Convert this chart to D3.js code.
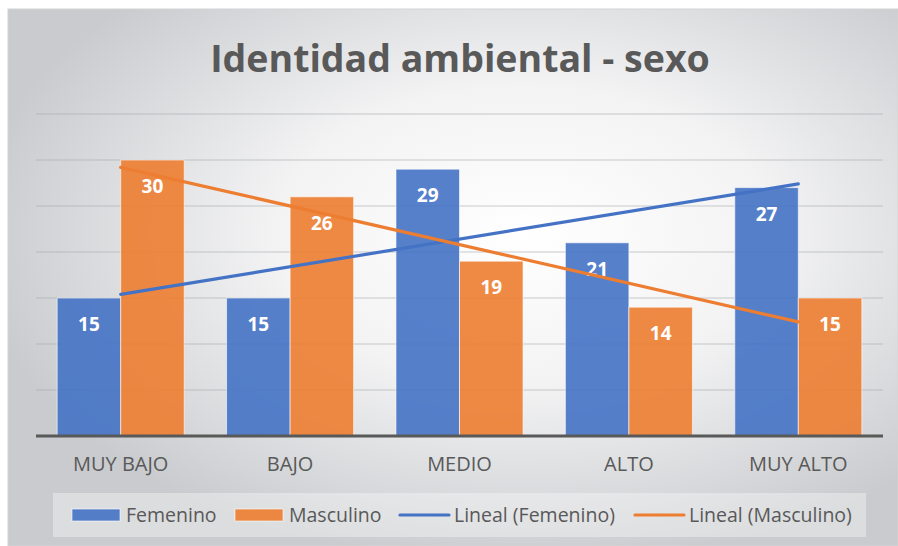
<!DOCTYPE html>
<html>
<head>
<meta charset="utf-8">
<script src="https://cdn.jsdelivr.net/npm/d3@7"></script>
<style>
  body { margin: 0; background: #fff; }
  text { font-family: "Open Sans", sans-serif; }
</style>
</head>
<body>
<div class="main"></div>
<script>
// data
var categories = ["MUY BAJO", "BAJO", "MEDIO", "ALTO", "MUY ALTO"];
var seriesNames = ["Femenino", "Masculino"];
var femenino = [15, 15, 29, 21, 27];
var masculino = [30, 26, 19, 14, 15];
var yTicks = [0, 5, 10, 15, 20, 25, 30, 35];

var colors = {Femenino: "#4472c4", Masculino: "#ed7d31"};

const W = 898, H = 546;
const plot = {left: 36, right: 883, top: 114, bottom: 436};

var svg = d3.select(".main").append("svg")
    .attr("width", W)
    .attr("height", H);

// background gradient
var defs = svg.append("defs");
var grad = defs.append("radialGradient")
    .attr("id", "bg")
    .attr("cx", "58%").attr("cy", "42%").attr("r", "62%");
grad.append("stop").attr("offset", "0%").attr("stop-color", "#ffffff");
grad.append("stop").attr("offset", "45%").attr("stop-color", "#f3f3f4");
grad.append("stop").attr("offset", "100%").attr("stop-color", "#c9cbce");

svg.append("rect")
    .attr("x", 8).attr("y", 9)
    .attr("width", 890).attr("height", 537)
    .attr("fill", "url(#bg)")
    .attr("stroke", "#d4d4d4")
    .attr("stroke-width", 1);

// title
svg.append("text")
    .attr("x", 460)
    .attr("y", 72)
    .attr("text-anchor", "middle")
    .text("Identidad ambiental - sexo")
    .style("font-size", "37.5px")
    .style("font-weight", "700")
    .style("fill", "#595959");

// scales
var x = d3.scaleBand()
    .domain(categories)
    .range([plot.left, plot.right])
    .paddingInner(0.25)
    .paddingOuter(0.125);

var xSub = d3.scaleBand()
    .domain(seriesNames)
    .range([0, x.bandwidth()]);

var y = d3.scaleLinear()
    .domain([0, 35])
    .range([plot.bottom, plot.top]);

// gridlines
svg.append("g")
    .selectAll("line")
    .data(yTicks.filter(function(d) { return d > 0; }))
    .enter()
    .append("line")
    .attr("x1", plot.left)
    .attr("x2", plot.right)
    .attr("y1", function(d) { return y(d); })
    .attr("y2", function(d) { return y(d); })
    .attr("stroke", "#a9abae")
    .attr("stroke-opacity", 0.6)
    .attr("stroke-width", 1.2);

// bars
var rows = categories.map(function(c, i) {
    return {cat: c, Femenino: femenino[i], Masculino: masculino[i]};
});

var groups = svg.append("g")
    .selectAll("g")
    .data(rows)
    .enter()
    .append("g")
    .attr("transform", function(d) { return "translate(" + x(d.cat) + ",0)"; });

groups.selectAll("rect")
    .data(function(d) { return seriesNames.map(function(s) { return {s: s, v: d[s]}; }); })
    .enter()
    .append("rect")
    .attr("x", function(d) { return xSub(d.s); })
    .attr("y", function(d) { return y(d.v); })
    .attr("width", xSub.bandwidth())
    .attr("height", function(d) { return y(0) - y(d.v); })
    .attr("fill", function(d) { return colors[d.s]; })
    .attr("fill-opacity", 0.9)
    .attr("stroke", "#ffffff")
    .attr("stroke-opacity", 0.6)
    .attr("stroke-width", 1);

// data labels
groups.selectAll("text")
    .data(function(d) { return seriesNames.map(function(s) { return {s: s, v: d[s]}; }); })
    .enter()
    .append("text")
    .attr("x", function(d) { return xSub(d.s) + xSub.bandwidth() / 2; })
    .attr("y", function(d) { return y(d.v) + 33; })
    .attr("text-anchor", "middle")
    .text(function(d) { return d.v; })
    .style("font-size", "19px")
    .style("font-weight", "700")
    .style("fill", "#ffffff");

// baseline
svg.append("line")
    .attr("x1", plot.left)
    .attr("x2", plot.right)
    .attr("y1", y(0))
    .attr("y2", y(0))
    .attr("stroke", "#595959")
    .attr("stroke-width", 3);

// category axis labels
var xAxis = svg.append("g")
    .attr("transform", "translate(0," + y(0) + ")")
    .call(d3.axisBottom(x).tickSize(0).tickPadding(21));
xAxis.select(".domain").remove();
xAxis.selectAll("text")
    .style("font-family", "\"Open Sans\", sans-serif")
    .style("font-size", "20px")
    .style("fill", "#595959");

// linear trend lines (least squares over category index)
function trend(vals) {
    var n = vals.length;
    var xs = vals.map(function(v, i) { return i + 1; });
    var mx = d3.mean(xs), my = d3.mean(vals);
    var num = d3.sum(xs, function(xv, i) { return (xv - mx) * (vals[i] - my); });
    var den = d3.sum(xs, function(xv) { return (xv - mx) * (xv - mx); });
    var b = num / den, a = my - b * mx;
    return [{cat: categories[0], v: a + b * 1}, {cat: categories[n - 1], v: a + b * n}];
}

var line = d3.line()
    .x(function(d) { return x(d.cat) + x.bandwidth() / 2; })
    .y(function(d) { return y(d.v); });

[["Femenino", femenino], ["Masculino", masculino]].forEach(function(p) {
    svg.append("path")
        .datum(trend(p[1]))
        .attr("d", line)
        .attr("fill", "none")
        .attr("stroke", colors[p[0]])
        .attr("stroke-width", 3.2)
        .attr("stroke-linecap", "round");
});

// legend
svg.append("rect")
    .attr("x", 53).attr("y", 493)
    .attr("width", 813).attr("height", 44)
    .attr("fill", "#ffffff")
    .attr("fill-opacity", 0.35);

var legendItems = [
    {label: "Femenino", color: colors.Femenino, type: "rect", x: 72},
    {label: "Masculino", color: colors.Masculino, type: "rect", x: 235},
    {label: "Lineal (Femenino)", color: colors.Femenino, type: "line", x: 399},
    {label: "Lineal (Masculino)", color: colors.Masculino, type: "line", x: 634}
];

var leg = svg.append("g")
    .selectAll("g")
    .data(legendItems)
    .enter()
    .append("g")
    .attr("transform", function(d) { return "translate(" + d.x + ",515)"; });

leg.filter(function(d) { return d.type === "rect"; })
    .append("rect")
    .attr("x", 0).attr("y", -6)
    .attr("width", 48).attr("height", 12)
    .attr("fill", function(d) { return d.color; })
    .attr("fill-opacity", 0.9)
    .attr("stroke", "#ffffff")
    .attr("stroke-opacity", 0.6);

leg.filter(function(d) { return d.type === "line"; })
    .append("line")
    .attr("x1", 1).attr("x2", 50)
    .attr("y1", 0).attr("y2", 0)
    .attr("stroke", function(d) { return d.color; })
    .attr("stroke-width", 3.2)
    .attr("stroke-linecap", "round");

leg.append("text")
    .attr("x", function(d) { return d.type === "rect" ? 54 : 55; })
    .attr("y", 7)
    .text(function(d) { return d.label; })
    .style("font-size", "19.5px")
    .style("fill", "#595959");
</script>
</body>
</html>
